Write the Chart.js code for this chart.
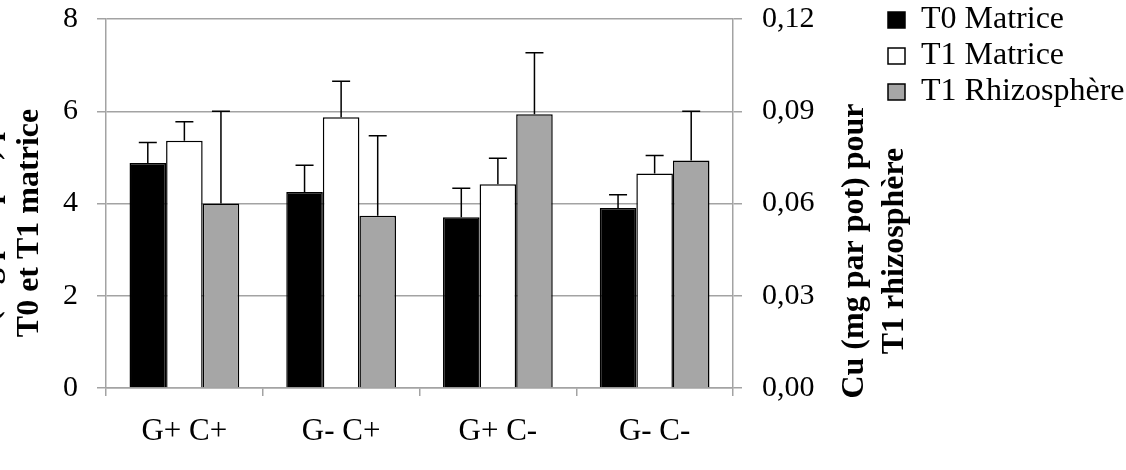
<!DOCTYPE html>
<html lang="fr">
<head>
<meta charset="utf-8">
<title>Cu par pot</title>
<script src="https://cdn.jsdelivr.net/npm/chart.js@4.4.1/dist/chart.umd.min.js"></script>
<style>
    body { margin: 0; background: #fff; }
    #wrap { width: 1126px; height: 470px; }
</style>
</head>
<body>
<div id="wrap"><canvas id="cuChart" width="1126" height="470"></canvas></div>
<script>
// Traitements
const categories = ['G+ C+', 'G- C+', 'G+ C-', 'G- C-'];

// Cu (mg par pot), axe de gauche
const t0Matrice = [4.88, 4.25, 3.70, 3.90];
const t0MatriceErr = [0.44, 0.58, 0.63, 0.29];
const t1Matrice = [5.36, 5.87, 4.42, 4.65];
const t1MatriceErr = [0.41, 0.78, 0.56, 0.39];

// Cu (mg par pot), axe de droite
const t1Rhizo = [0.060, 0.056, 0.089, 0.074];
const t1RhizoErr = [0.030, 0.026, 0.020, 0.016];

const leftTitle = ['Cu (mg par pot) pour', 'T0 et T1 matrice'];
const rightTitle = ['Cu (mg par pot) pour', 'T1 rhizosphère'];

const gridGray = '#a3a3a3';

// error bars (upper side only), drawn with each dataset's own y scale
const errorBarsPlugin = {
    id: 'errorBars',
    afterDatasetsDraw(chart) {
        const ctx = chart.ctx;
        chart.data.datasets.forEach((dataset, i) => {
            const meta = chart.getDatasetMeta(i);
            const yScale = chart.scales[meta.yAxisID];
            meta.data.forEach((bar, j) => {
                const yTop = yScale.getPixelForValue(dataset.data[j] + dataset.errors[j]);
                ctx.save();
                ctx.strokeStyle = '#000';
                ctx.lineWidth = 1.5;
                ctx.beginPath();
                ctx.moveTo(bar.x, bar.y);
                ctx.lineTo(bar.x, yTop);
                ctx.moveTo(bar.x - 9, yTop);
                ctx.lineTo(bar.x + 9, yTop);
                ctx.stroke();
                ctx.restore();
            });
        });
    }
};

function drawRotatedLines(ctx, lines, xs, yCenter) {
    lines.forEach((line, k) => {
        ctx.save();
        ctx.translate(xs[k], yCenter);
        ctx.rotate(-Math.PI / 2);
        ctx.fillText(line, 0, 0);
        ctx.restore();
    });
}

// two-line axis titles, placed like in the original figure
const axisTitlesPlugin = {
    id: 'axisTitles',
    afterDraw(chart) {
        const ctx = chart.ctx;
        const area = chart.chartArea;
        ctx.save();
        ctx.font = 'bold 32px "Liberation Serif"';
        ctx.fillStyle = '#000';
        ctx.textAlign = 'center';
        ctx.textBaseline = 'alphabetic';
        drawRotatedLines(ctx, leftTitle, [area.left - 108, area.left - 68], area.top + 204);
        drawRotatedLines(ctx, rightTitle, [area.right + 130, area.right + 170], area.top + 232);
        ctx.restore();
    }
};

function formatComma(value) {
    return Number(value).toFixed(2).replace('.', ',');
}

function renderCuChart() {
    const ctx = document.getElementById('cuChart').getContext('2d');
    Chart.defaults.font.family = '"Liberation Serif", "Times New Roman", serif';
    Chart.defaults.color = '#000';

    new Chart(ctx, {
        type: 'bar',
        data: {
            labels: categories,
            datasets: [
                {
                    label: 'T0 Matrice',
                    data: t0Matrice,
                    errors: t0MatriceErr,
                    backgroundColor: '#000000',
                    borderColor: '#000000',
                    borderWidth: 1.5,
                    yAxisID: 'y'
                },
                {
                    label: 'T1 Matrice',
                    data: t1Matrice,
                    errors: t1MatriceErr,
                    backgroundColor: '#ffffff',
                    borderColor: '#000000',
                    borderWidth: 1.5,
                    yAxisID: 'y'
                },
                {
                    label: 'T1 Rhizosphère',
                    data: t1Rhizo,
                    errors: t1RhizoErr,
                    backgroundColor: '#a6a6a6',
                    borderColor: '#000000',
                    borderWidth: 1.5,
                    yAxisID: 'y1'
                }
            ]
        },
        options: {
            responsive: false,
            animation: false,
            categoryPercentage: 0.7,
            barPercentage: 1.0,
            layout: { padding: 0 },
            scales: {
                x: {
                    grid: {
                        display: true,
                        drawOnChartArea: false,
                        drawTicks: true,
                        offset: true,
                        tickLength: 8,
                        color: gridGray,
                        lineWidth: 1.5
                    },
                    border: { color: gridGray, width: 1.5 },
                    ticks: {
                        font: { size: 31 },
                        padding: 17,
                        maxRotation: 0
                    },
                    afterFit: function(scale) {
                        scale.height = 82;
                    }
                },
                y: {
                    position: 'left',
                    min: 0,
                    max: 8,
                    ticks: {
                        stepSize: 2,
                        font: { size: 30 },
                        padding: 19
                    },
                    grid: {
                        color: gridGray,
                        lineWidth: 1.5,
                        tickLength: 9
                    },
                    border: { color: gridGray, width: 1.5 },
                    afterFit: function(scale) {
                        scale.width = 106;
                        scale.paddingTop = 19;
                        scale.paddingBottom = 0;
                    }
                },
                y1: {
                    position: 'right',
                    min: 0,
                    max: 0.12,
                    ticks: {
                        stepSize: 0.03,
                        font: { size: 30 },
                        padding: 20,
                        callback: function(value) {
                            return formatComma(value);
                        }
                    },
                    grid: {
                        drawOnChartArea: false,
                        color: gridGray,
                        lineWidth: 1.5,
                        tickLength: 9
                    },
                    border: { color: gridGray, width: 1.5 },
                    afterFit: function(scale) {
                        scale.width = 151;
                        scale.paddingTop = 19;
                        scale.paddingBottom = 0;
                    }
                }
            },
            plugins: {
                legend: {
                    position: 'right',
                    align: 'start',
                    maxWidth: 242,
                    labels: {
                        font: { size: 32 },
                        boxWidth: 17,
                        boxHeight: 16,
                        padding: 4,
                        color: '#000'
                    }
                },
                tooltip: { enabled: false },
                title: { display: false }
            }
        },
        plugins: [errorBarsPlugin, axisTitlesPlugin]
    });
}

document.addEventListener('DOMContentLoaded', function() {
    renderCuChart();
});
</script>
</body>
</html>
